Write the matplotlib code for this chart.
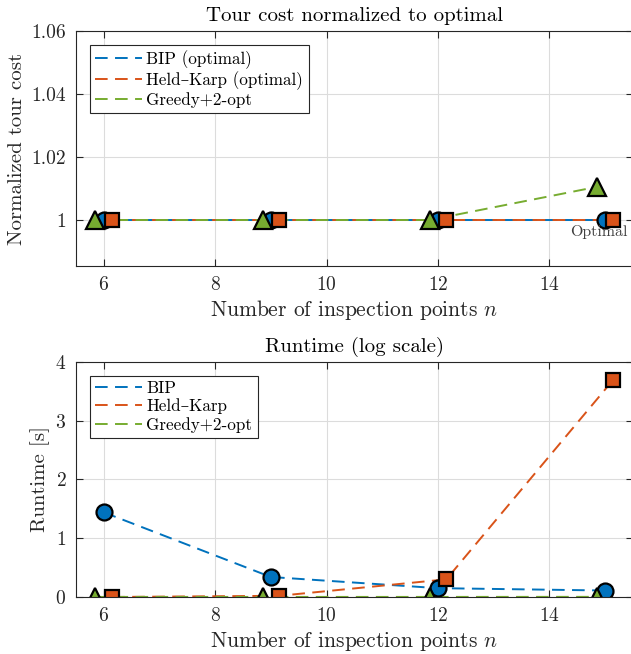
import numpy as np
import matplotlib
matplotlib.use('Agg')
import matplotlib.pyplot as plt

# data
n_points = np.array([6, 9, 12, 15])
cost_bip = [1.0, 1.0, 1.0, 1.0]
cost_hk = [1.0, 1.0, 1.0, 1.0]
cost_greedy = [1.0, 1.0, 1.0, 1.0105]
time_bip = [1.44, 0.34, 0.15, 0.11]
time_hk = [0.0, 0.02, 0.30, 3.70]
time_greedy = [0.001, 0.001, 0.001, 0.002]

plt.rcParams['font.family'] = ['cmr10', 'DejaVu Serif']
plt.rcParams['mathtext.fontset'] = 'cm'
plt.rcParams['axes.formatter.use_mathtext'] = True

c_blue = '#0072BD'
c_orange = '#D95319'
c_green = '#77AC30'
dx = 0.15

fig = plt.figure(figsize=(6.31, 6.54), dpi=100)
ax1 = fig.add_axes([0.1204, 0.5933, 0.8826, 0.3593])
ax2 = fig.add_axes([0.1204, 0.0872, 0.8826, 0.3593])


def style(ax):
    ax.grid(True, color='#dcdcdc', linewidth=0.8)
    ax.set_axisbelow(True)
    ax.tick_params(direction='in', length=5, width=0.8, top=True, right=True,
                   labelsize=14, colors='#262626', pad=7)
    for s in ax.spines.values():
        s.set_color('#262626')
        s.set_linewidth(0.8)
    ax.set_xlim(5.5, 15.5)
    ax.set_xticks([6, 8, 10, 12, 14])
    ax.set_xlabel(r'Number of inspection points $n$', fontsize=15.5, color='#262626',
                  labelpad=3)


def series(ax, ys, colors, labels):
    xs = [n_points, n_points + dx, n_points - dx]
    marks = ['o', 's', '^']
    sizes = [11.5, 10, 12.5]
    for x, y, c, lab in zip(xs, ys, colors, labels):
        ax.plot(x, y, '--', color=c, linewidth=1.4, dashes=(6.5, 3.8), label=lab)
    for x, y, c, m, ms in zip(xs, ys, colors, marks, sizes):
        ax.plot(x, y, linestyle='none', marker=m, markersize=ms, markerfacecolor=c,
                markeredgecolor='black', markeredgewidth=1.6)


def legend(ax):
    leg = ax.legend(loc='upper left', fontsize=12.3, fancybox=False, framealpha=1,
                    edgecolor='#262626', handlelength=2.75, borderaxespad=0.8,
                    labelspacing=0.13, handletextpad=0.25, borderpad=0.32)
    leg.get_frame().set_linewidth(0.8)


colors = [c_blue, c_orange, c_green]

series(ax1, [cost_bip, cost_hk, cost_greedy], colors,
       ['BIP (optimal)', 'Held–Karp (optimal)', 'Greedy+2-opt'])
style(ax1)
ax1.set_ylim(0.9854, 1.06)
ax1.set_yticks([1.0, 1.02, 1.04, 1.06])
ax1.set_yticklabels(['1', '1.02', '1.04', '1.06'])
ax1.set_ylabel('Normalized tour cost', fontsize=15, color='#262626')
ax1.set_title('Tour cost normalized to optimal', fontsize=15, color='black', pad=7)
ax1.text(14.88, 0.9962, 'Optimal', fontsize=11.5, color='#404040',
         ha='center', va='center')
legend(ax1)

series(ax2, [time_bip, time_hk, time_greedy], colors,
       ['BIP', 'Held–Karp', 'Greedy+2-opt'])
style(ax2)
ax2.set_ylim(0, 4)
ax2.set_yticks([0, 1, 2, 3, 4])
ax2.set_ylabel('Runtime [s]', fontsize=15, color='#262626')
ax2.set_title('Runtime (log scale)', fontsize=15, color='black', pad=7)
legend(ax2)

fig.savefig('out.png', dpi=100)
